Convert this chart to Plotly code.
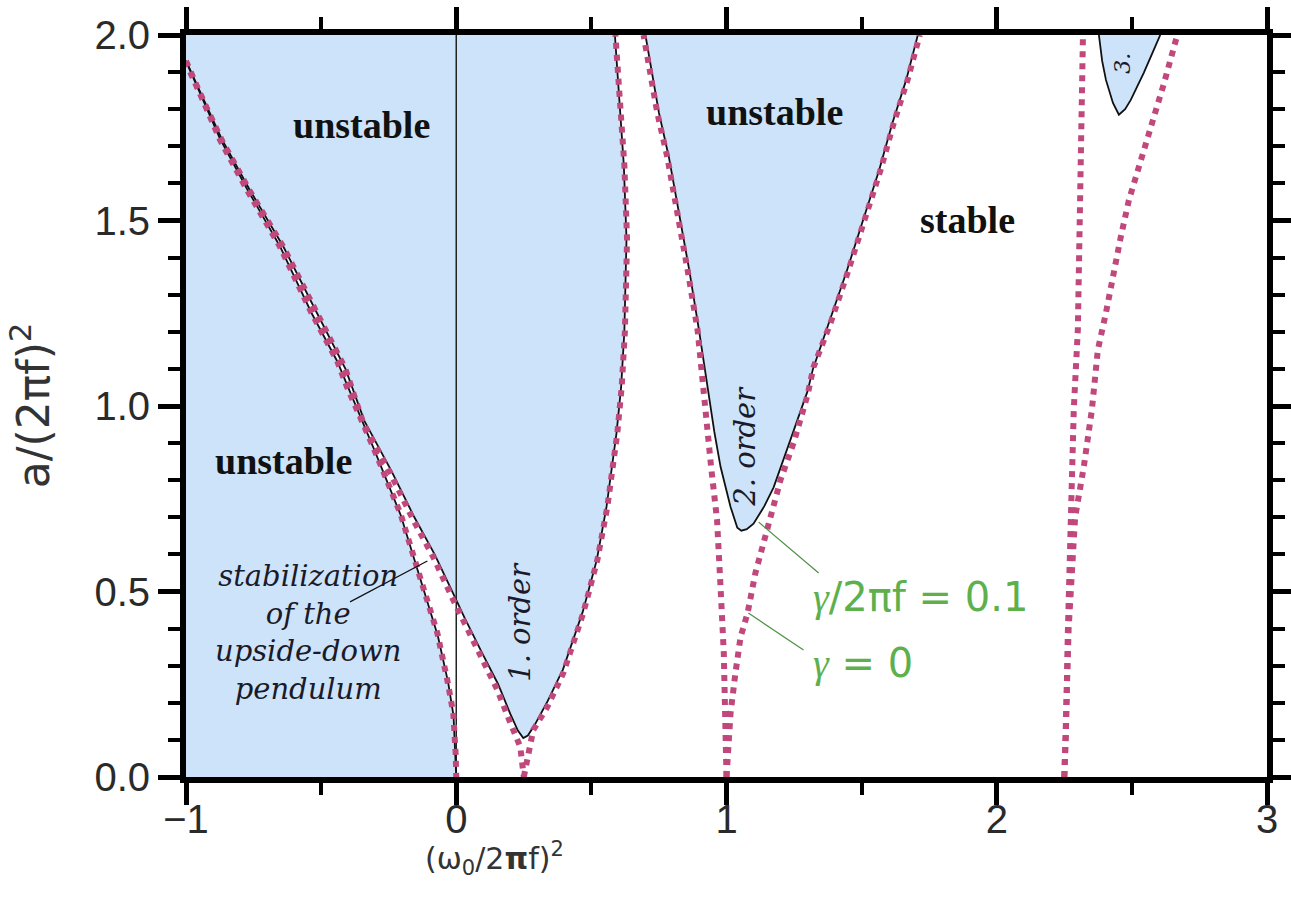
import plotly.graph_objects as go

# ---- Mathieu stability chart: transition curves read off as (x, y) samples ----
# x = (w0 / 2 pi f)^2, y = a / (2 pi f)^2

# undamped (gamma = 0) transition curves
a0_x = [-1.0, -0.874, -0.774, -0.652, -0.535, -0.44, -0.404, -0.307, -0.207, -0.133, -0.070, -0.033, -0.011, -0.002, 0.0]
a0_y = [1.93, 1.717, 1.582, 1.429, 1.25, 1.12, 1.051, 0.889, 0.711, 0.531, 0.388, 0.261, 0.172, 0.06, 0.0]

b1_x = [-0.985, -0.868, -0.766, -0.64, -0.515, -0.41, -0.344, -0.244, -0.159, -0.085, -0.011, 0.026, 0.089, 0.152, 0.2, 0.237, 0.25]
b1_y = [1.90, 1.717, 1.582, 1.429, 1.25, 1.10, 0.954, 0.819, 0.693, 0.593, 0.477, 0.423, 0.323, 0.235, 0.146, 0.081, 0.0]

a1_x = [0.25, 0.268, 0.285, 0.337, 0.396, 0.470, 0.522, 0.559, 0.596, 0.612, 0.624, 0.632, 0.622, 0.603, 0.589]
a1_y = [0.0, 0.06, 0.127, 0.189, 0.28, 0.442, 0.585, 0.728, 0.927, 1.05, 1.2, 1.45, 1.65, 1.85, 2.0]

b2_x = [1.0, 0.997, 0.99, 0.978, 0.965, 0.943, 0.915, 0.893, 0.856, 0.819, 0.781, 0.744, 0.693]
b2_y = [0.0, 0.173, 0.334, 0.512, 0.693, 0.836, 1.03, 1.205, 1.367, 1.52, 1.671, 1.79, 2.0]

a2_x = [1.0, 1.005, 1.015, 1.033, 1.052, 1.078, 1.107, 1.163, 1.2, 1.248, 1.30, 1.322, 1.385, 1.448, 1.507, 1.570, 1.619, 1.670, 1.715]
a2_y = [0.0, 0.08, 0.172, 0.28, 0.377, 0.442, 0.55, 0.701, 0.801, 0.90, 1.03, 1.105, 1.224, 1.359, 1.493, 1.636, 1.763, 1.879, 2.0]

b3_x = [2.25, 2.256, 2.263, 2.274, 2.285, 2.30, 2.311, 2.319]
b3_y = [0.0, 0.118, 0.388, 0.699, 0.99, 1.205, 1.565, 2.0]

a3_x = [2.25, 2.256, 2.266, 2.29, 2.322, 2.352, 2.374, 2.404, 2.43, 2.459, 2.489, 2.533, 2.581, 2.619, 2.668]
a3_y = [0.0, 0.12, 0.40, 0.70, 0.836, 0.99, 1.151, 1.251, 1.359, 1.456, 1.555, 1.663, 1.771, 1.87, 2.0]

# damped (gamma / 2 pi f = 0.1) boundaries
d_a0_x = [-1.0, -0.874, -0.774, -0.652, -0.535, -0.44, -0.40, -0.305, -0.205, -0.13, -0.068, -0.03, -0.01, 0.0]
d_a0_y = [1.93, 1.72, 1.585, 1.43, 1.25, 1.12, 1.05, 0.885, 0.705, 0.525, 0.38, 0.255, 0.165, 0.0]

d_t1_left_x = [-1.0, -0.868, -0.766, -0.64, -0.515, -0.41, -0.34, -0.24, -0.155, -0.08, -0.005, 0.03, 0.095, 0.155, 0.2, 0.228, 0.248]
d_t1_left_y = [1.93, 1.72, 1.585, 1.43, 1.25, 1.10, 0.96, 0.825, 0.70, 0.60, 0.485, 0.43, 0.335, 0.25, 0.17, 0.125, 0.105]
d_t1_right_x = [0.265, 0.29, 0.335, 0.395, 0.468, 0.52, 0.556, 0.593, 0.61, 0.622, 0.63, 0.62, 0.601, 0.587]
d_t1_right_y = [0.112, 0.14, 0.2, 0.29, 0.445, 0.585, 0.728, 0.927, 1.05, 1.2, 1.45, 1.65, 1.85, 2.0]

d_t2_x = [0.70, 0.75, 0.787, 0.825, 0.862, 0.898, 0.93, 0.955, 0.978, 1.015, 1.04, 1.055, 1.075, 1.10, 1.14, 1.174, 1.226, 1.30, 1.32, 1.38, 1.443, 1.502, 1.565, 1.614, 1.665, 1.708]
d_t2_y = [2.0, 1.79, 1.67, 1.52, 1.367, 1.205, 1.05, 0.93, 0.836, 0.728, 0.672, 0.664, 0.668, 0.683, 0.73, 0.78, 0.887, 1.04, 1.10, 1.224, 1.359, 1.493, 1.636, 1.763, 1.879, 2.0]

d_t3_x = [2.378, 2.39, 2.404, 2.43, 2.452, 2.475, 2.496, 2.52, 2.544, 2.575, 2.605]
d_t3_y = [2.0, 1.93, 1.879, 1.817, 1.785, 1.80, 1.825, 1.86, 1.898, 1.95, 2.0]

x_tick_vals = [-1, 0, 1, 2, 3]
x_tick_text = ["\u22121", "0", "1", "2", "3"]
y_tick_vals = [0.0, 0.5, 1.0, 1.5, 2.0]
y_tick_text = ["0.0", "0.5", "1.0", "1.5", "2.0"]

BLUE = "#cde3f9"
DOT = "#c0487c"
GREEN = "#5db04c"
X_MIN, X_MAX, Y_MIN, Y_MAX = -1.0, 3.0, 0.0, 2.0

fig = go.Figure()


def fill_region(xs, ys):
    fig.add_trace(go.Scatter(x=xs, y=ys, mode="lines", fill="toself", fillcolor=BLUE,
                             line=dict(width=0), hoverinfo="skip", showlegend=False))


# unstable regions (blue)
fill_region(d_a0_x + [X_MIN], d_a0_y + [Y_MIN])
fill_region(d_t1_left_x + d_t1_right_x + [X_MIN], d_t1_left_y + d_t1_right_y + [Y_MAX])
fill_region(d_t2_x, d_t2_y)
fill_region(d_t3_x, d_t3_y)

# thin vertical line at x = 0
fig.add_trace(go.Scatter(x=[0, 0], y=[Y_MIN, Y_MAX], mode="lines",
                         line=dict(color="#222", width=1.5), hoverinfo="skip", showlegend=False))

# damped boundaries (solid black)
for xs, ys in [(d_a0_x, d_a0_y),
               (d_t1_left_x + d_t1_right_x, d_t1_left_y + d_t1_right_y),
               (d_t2_x, d_t2_y),
               (d_t3_x, d_t3_y)]:
    fig.add_trace(go.Scatter(x=xs, y=ys, mode="lines", line=dict(color="#111", width=1.8),
                             hoverinfo="skip", showlegend=False))

# undamped boundaries (dotted)
for xs, ys in [(a0_x, a0_y), (b1_x, b1_y), (a1_x, a1_y), (b2_x, b2_y),
               (a2_x, a2_y), (b3_x, b3_y), (a3_x, a3_y)]:
    fig.add_trace(go.Scatter(x=xs, y=ys, mode="lines",
                             line=dict(color=DOT, width=6, dash="dot"),
                             hoverinfo="skip", showlegend=False))

# region labels
bold_font = dict(family="Liberation Serif", size=38, color="#111")
for x, y in [(-0.35, 1.757), (1.176, 1.792), (-0.64, 0.852)]:
    fig.add_annotation(x=x, y=y, text="<b>unstable</b>", showarrow=False, font=bold_font)
fig.add_annotation(x=1.893, y=1.501, text="<b>stable</b>", showarrow=False, font=bold_font)

ital_font = dict(family="DejaVu Serif", size=29, color="#1a1a2a")
fig.add_annotation(x=-0.55, y=0.39,
                   text="<i>stabilization<br>of the<br>upside-down<br>pendulum</i>",
                   showarrow=False, font=ital_font, align="center")
fig.add_annotation(x=0.233, y=0.419, text="<i>1. order</i>", textangle=-90,
                   showarrow=False, font=ital_font)
fig.add_annotation(x=1.067, y=0.892, text="<i>2. order</i>", textangle=-90,
                   showarrow=False, font=ital_font)
fig.add_annotation(x=2.467, y=1.925, text="<i>3.</i>", textangle=-90,
                   showarrow=False, font=dict(family="DejaVu Serif", size=22, color="#1a1a2a"))

# pointer lines
fig.add_shape(type="line", x0=-0.393, y0=0.472, x1=-0.107, y1=0.582,
              line=dict(color="#111", width=1.2))
fig.add_shape(type="line", x0=1.341, y0=0.550, x1=1.119, y1=0.687,
              line=dict(color="#4f8f45", width=1.2))
fig.add_shape(type="line", x0=1.285, y0=0.342, x1=1.081, y1=0.442,
              line=dict(color="#4f8f45", width=1.2))

green_font = dict(family="DejaVu Sans", size=40, color=GREEN)
fig.add_annotation(x=1.311, y=0.485, xanchor="left", yanchor="middle",
                   text="<span style='font-family:Liberation Serif'><i>\u03b3</i></span>/2\u03c0f = 0.1",
                   showarrow=False, font=green_font)
fig.add_annotation(x=1.311, y=0.307, xanchor="left", yanchor="middle",
                   text="<span style='font-family:Liberation Serif'><i>\u03b3</i></span> = 0",
                   showarrow=False, font=green_font)

# axis titles
fig.add_annotation(xref="paper", yref="paper", x=-0.1443, y=0.501, xanchor="center",
                   yanchor="middle", textangle=-90,
                   text="a/(2\u03c0f)<sup>2</sup>", showarrow=False,
                   font=dict(family="DejaVu Sans", size=44, color="#333"))
fig.add_annotation(xref="paper", yref="paper", x=0.285, y=-0.11, xanchor="center",
                   yanchor="middle",
                   text="(\u03c9<sub>0</sub>/2<b>\u03c0</b>f)<sup>2</sup>", showarrow=False,
                   font=dict(family="DejaVu Sans", size=30, color="#333"))

axis_common = dict(showgrid=False, zeroline=False, showline=True, linecolor="#000",
                   linewidth=6, mirror="allticks", ticks="outside", ticklen=22,
                   tickwidth=5, tickcolor="#000", automargin=False,
                   tickfont=dict(family="Liberation Sans", size=40, color="#2a2a2a"))

fig.update_xaxes(range=[X_MIN, X_MAX], tickmode="array", tickvals=x_tick_vals,
                 ticktext=x_tick_text, ticklabelstandoff=-20,
                 minor=dict(dtick=0.5, ticklen=12, tickwidth=4, tickcolor="#000", ticks="outside"),
                 **axis_common)
fig.update_yaxes(range=[Y_MIN, Y_MAX], tickmode="array", tickvals=y_tick_vals,
                 ticktext=y_tick_text,
                 minor=dict(dtick=0.1, ticklen=12, tickwidth=4, tickcolor="#000", ticks="outside"),
                 **axis_common)

fig.update_layout(width=1291, height=899, margin=dict(l=186, r=24, t=35, b=122),
                  plot_bgcolor="white", paper_bgcolor="white", hovermode=False,
                  showlegend=False)

fig.write_html("out.html")
